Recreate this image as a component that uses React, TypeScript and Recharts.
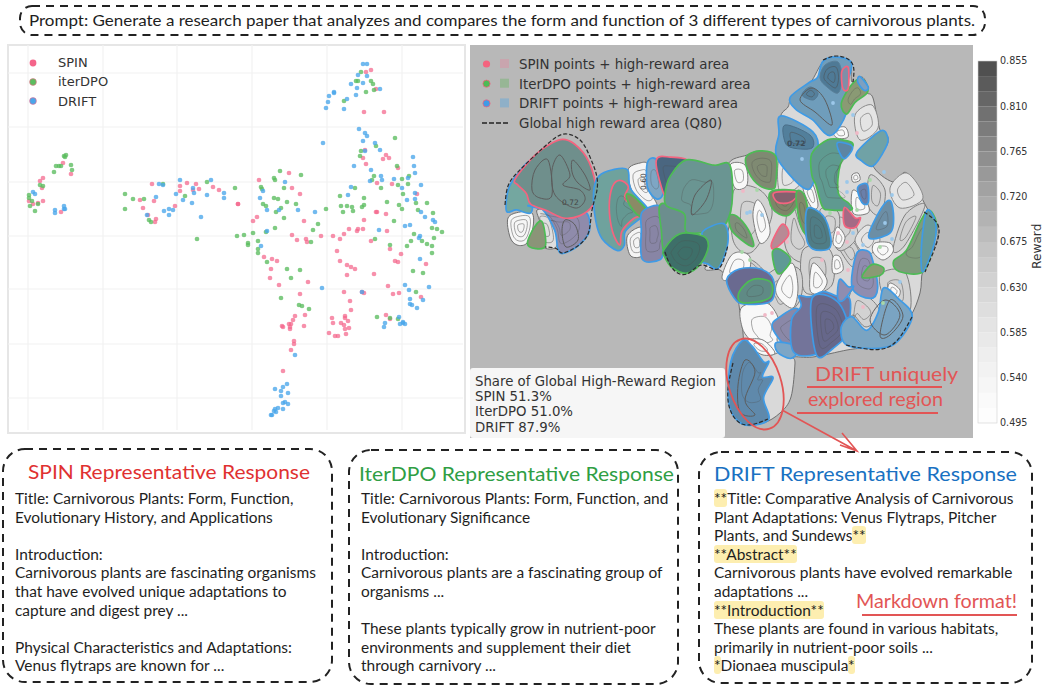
import { CartesianGrid, Scatter, ScatterChart, XAxis, YAxis } from "recharts";

type Pt = [number, number];
const pts = (list: Pt[]) => list.map(([x, y]) => ({ x, y }));

// ---- left panel, values ----
const gridX = [28, 103, 177, 252, 327, 402];
const gridY = [73, 127, 182, 236, 289, 344, 398];

const spinPoints: Pt[] = [
  [29, 201], [33, 204], [38, 203], [43, 201], [40, 181], [43, 178], [42, 188], [63, 163], [71, 174], [61, 212],
  [152, 184], [140, 200], [154, 201], [143, 208], [148, 215], [156, 219], [155, 222], [175, 206], [180, 186], [180, 191],
  [187, 183], [196, 184], [193, 190], [199, 189], [213, 187], [219, 190], [238, 204], [366, 72], [371, 70], [376, 89],
  [364, 112], [384, 112], [365, 150], [363, 158], [386, 155], [383, 159], [389, 158], [366, 164], [398, 168], [377, 183],
  [392, 184], [417, 194], [377, 212], [376, 212], [386, 214], [364, 220], [387, 231], [349, 229], [358, 229], [357, 231],
  [363, 229], [344, 234], [333, 236], [321, 236], [292, 235], [259, 180], [289, 173], [292, 188], [300, 194], [238, 204],
  [257, 217], [253, 221], [304, 221], [297, 240], [306, 239], [340, 239], [307, 242], [337, 251], [371, 241], [390, 249],
  [401, 254], [395, 261], [398, 262], [426, 264], [272, 259], [277, 261], [264, 257], [271, 269], [270, 278], [279, 285],
  [308, 282], [340, 261], [347, 265], [351, 267], [355, 269], [347, 275], [374, 274], [388, 286], [344, 292], [362, 292],
  [364, 293], [393, 294], [399, 293], [421, 297], [300, 294], [350, 301], [351, 310], [295, 316], [305, 315], [293, 320],
  [304, 326], [282, 326], [283, 327], [289, 324], [291, 324], [290, 327], [290, 329], [332, 318], [333, 323], [341, 323],
  [345, 316], [345, 318], [348, 321], [344, 325], [345, 329], [349, 328], [329, 333], [335, 336], [338, 336], [346, 334],
  [294, 341], [294, 344], [291, 350], [283, 371], [386, 315], [390, 319],
];
const iterPoints: Pt[] = [
  [29, 195], [29, 198], [30, 206], [35, 211], [32, 201], [38, 204], [40, 185], [43, 186], [54, 172], [56, 166],
  [59, 166], [61, 166], [64, 156], [66, 155], [65, 157], [71, 165], [72, 170], [125, 194], [133, 199], [144, 199],
  [125, 209], [149, 220], [151, 222], [163, 184], [185, 196], [207, 182], [235, 188], [197, 239], [237, 236], [361, 72],
  [356, 81], [358, 81], [371, 81], [373, 84], [366, 92], [374, 90], [344, 101], [395, 138], [376, 146], [361, 151],
  [360, 156], [397, 166], [374, 176], [372, 180], [409, 176], [402, 179], [398, 185], [408, 184], [355, 188], [381, 188],
  [403, 194], [340, 196], [364, 198], [416, 203], [427, 203], [399, 205], [402, 209], [387, 202], [364, 205], [362, 207],
  [341, 206], [347, 206], [352, 207], [343, 212], [353, 211], [326, 209], [418, 210], [433, 213], [394, 221], [432, 228],
  [437, 229], [442, 232], [414, 234], [434, 238], [375, 239], [280, 171], [301, 175], [274, 178], [275, 180], [261, 187],
  [262, 189], [284, 188], [274, 198], [278, 199], [287, 202], [296, 204], [263, 204], [266, 206], [281, 208], [276, 212],
  [284, 218], [318, 224], [313, 230], [275, 228], [266, 232], [253, 233], [244, 235], [258, 241], [248, 243], [248, 245],
  [258, 249], [258, 253], [267, 262], [311, 242], [390, 245], [411, 241], [407, 246], [422, 241], [427, 244], [432, 246],
  [432, 253], [287, 269], [300, 270], [291, 278], [413, 271], [423, 273], [416, 292], [281, 298], [299, 305], [302, 306],
  [309, 309], [377, 317], [390, 318], [398, 319],
];
const driftPoints: Pt[] = [
  [33, 192], [35, 194], [55, 210], [55, 213], [64, 206], [64, 209], [65, 209], [159, 184], [163, 185], [156, 197],
  [147, 215], [164, 211], [169, 209], [173, 210], [169, 215], [176, 194], [180, 180], [183, 200], [193, 188], [194, 193],
  [192, 203], [201, 217], [207, 195], [211, 180], [224, 193], [224, 198], [363, 64], [367, 64], [358, 75], [367, 76],
  [351, 84], [363, 83], [357, 88], [380, 89], [334, 92], [334, 93], [329, 96], [347, 99], [356, 95], [328, 102],
  [326, 108], [344, 109], [359, 129], [365, 133], [367, 136], [363, 141], [323, 143], [375, 143], [380, 150], [365, 151],
  [413, 157], [354, 166], [414, 166], [371, 170], [415, 173], [381, 176], [408, 178], [394, 179], [382, 180], [370, 181],
  [421, 185], [402, 188], [351, 187], [348, 195], [415, 193], [415, 199], [407, 200], [285, 182], [260, 198], [263, 191],
  [267, 210], [279, 210], [298, 210], [315, 212], [421, 212], [425, 217], [433, 220], [435, 222], [405, 226], [410, 225],
  [379, 230], [420, 236], [419, 238], [267, 231], [261, 246], [420, 259], [322, 288], [362, 292], [405, 285], [409, 290],
  [429, 287], [410, 299], [410, 304], [412, 305], [417, 308], [423, 300], [399, 317], [403, 322], [400, 324], [403, 323],
  [405, 324], [385, 323], [384, 327], [295, 355], [287, 384], [283, 387], [275, 389], [281, 391], [288, 393], [281, 396],
  [285, 402], [283, 403], [288, 404], [278, 408], [283, 409], [275, 409], [274, 411], [276, 412], [272, 415], [271, 415],
];
const scatterLegend = ["SPIN", "iterDPO", "DRIFT"];

// ---- right panel outlines ----
const outlineEast: Pt[] = [
  [728, 165], [747, 155], [760, 151], [777, 155], [780, 118], [788, 107], [792, 97], [810, 83], [823, 62], [837, 59], [850, 65],
  [852, 82], [862, 77], [868, 87], [867, 93], [873, 98], [880, 130], [887, 135], [887, 145], [873, 165], [893, 182], [907, 173],
  [927, 208], [937, 225], [936, 243], [923, 270], [920, 293], [910, 317], [890, 340], [867, 347], [847, 350], [813, 357], [793, 357],
  [795, 363], [791, 397], [780, 413], [763, 423], [743, 423], [730, 400], [732, 363], [743, 343], [740, 313], [737, 297], [728, 280],
  [720, 270], [705, 268], [725, 240], [732, 203],
];
const whiteFarLeft: Pt[] = [[508, 218], [520, 212], [532, 213], [533, 227], [527, 243], [517, 245], [510, 237]];
const greyNearLeft: Pt[] = [[537, 210], [550, 213], [557, 237], [555, 248], [543, 247], [538, 233], [540, 223]];
const whiteMidTop: Pt[] = [[628, 170], [640, 163], [648, 165], [648, 187], [657, 205], [648, 208], [633, 193]];
const whiteMidLow: Pt[] = [[627, 237], [637, 228], [643, 230], [645, 250], [640, 257], [630, 255]];
const greyCells: Pt[][] = [
  [[838, 243], [853, 242], [860, 257], [853, 267], [843, 255]],
  [[790, 200], [800, 225], [812, 250], [800, 262], [785, 245]],
  [[828, 212], [845, 210], [858, 235], [838, 250]],
  [[870, 175], [885, 190], [880, 215], [868, 205]],
  [[905, 215], [925, 205], [905, 245], [893, 250]],
  [[735, 255], [755, 262], [770, 280], [745, 268]],
  [[734, 190], [760, 190], [772, 215], [752, 252], [733, 240]],
  [[852, 290], [872, 300], [880, 315], [866, 327], [853, 315], [846, 325]],
  [[803, 250], [830, 250], [832, 285], [805, 292]],
  [[880, 275], [905, 272], [910, 310], [888, 305]],
  [[820, 210], [838, 212], [838, 235], [828, 240]],
  [[762, 283], [778, 268], [800, 270], [800, 300], [780, 318], [770, 305]],
];
const lightBlobs: Pt[][] = [
  [[890, 188], [907, 173], [923, 198], [900, 208]],
  [[780, 158], [800, 183], [780, 192]],
  [[855, 115], [872, 105], [878, 128], [860, 140]],
  [[855, 240], [868, 225], [880, 240], [868, 255]],
];
const whiteBlobs: Pt[][] = [
  [[730, 165], [745, 165], [747, 185], [735, 188]],
  [[757, 200], [765, 210], [770, 233], [760, 243], [753, 217]],
  [[777, 283], [792, 263], [798, 287], [793, 308], [778, 297]],
  [[813, 263], [827, 280], [820, 293], [810, 290]],
  [[837, 227], [845, 237], [840, 248], [833, 243]],
  [[833, 257], [840, 257], [843, 270], [833, 273]],
  [[890, 283], [900, 290], [897, 298], [888, 293]],
  [[875, 243], [890, 243], [893, 252], [883, 260], [873, 252]],
  [[853, 190], [867, 203], [868, 213], [853, 213]],
  [[722, 278], [730, 257], [740, 252], [750, 257], [748, 273], [733, 280]],
  [[833, 130], [845, 127], [848, 137], [837, 138]],
  [[852, 175], [858, 173], [860, 180], [853, 182]],
  [[803, 188], [812, 183], [818, 205], [812, 208]],
  [[742, 307], [767, 303], [780, 323], [777, 340], [782, 350], [765, 355], [750, 340], [742, 327]],
  [[748, 340], [763, 340], [775, 353], [763, 355], [752, 348]],
  [[815, 300], [822, 300], [826, 330], [820, 345], [814, 340]],
];

const westTeal: Pt[] = [[507, 202], [510, 187], [518, 175], [530, 163], [540, 180], [533, 200], [530, 212], [517, 209], [508, 211]];
const westMain: Pt[] = [[517, 180], [530, 163], [543, 151], [560, 142], [573, 146], [587, 163], [594, 190], [590, 205], [578, 214], [563, 216], [547, 209], [532, 203], [528, 193], [520, 185]];
const westPurple: Pt[] = [[530, 207], [555, 212], [583, 212], [588, 230], [578, 244], [563, 252], [558, 247], [555, 230], [543, 210]];
const westOlive: Pt[] = [[528, 243], [535, 227], [542, 223], [545, 245], [536, 248]];
const midTeal: Pt[] = [[595, 193], [600, 178], [613, 172], [627, 172], [630, 190], [647, 210], [640, 217], [625, 230], [624, 243], [617, 248], [603, 237], [597, 220]];
const midTealInner: Pt[] = [[613, 188], [620, 182], [628, 188], [625, 200], [643, 213], [633, 218], [622, 230], [620, 243], [613, 230], [610, 207]];
const midOlive: Pt[] = [[627, 195], [635, 198], [647, 212], [640, 216], [630, 205]];
const midPurple: Pt[] = [[643, 213], [660, 208], [667, 230], [663, 247], [660, 258], [643, 258], [642, 230]];
const midBlue: Pt[] = [[648, 163], [657, 162], [663, 190], [657, 198], [648, 187]];
const midDark: Pt[] = [[657, 161], [670, 158], [687, 162], [672, 180], [667, 193], [663, 190]];
const bigTeal: Pt[] = [[667, 193], [672, 177], [687, 162], [713, 167], [728, 167], [730, 203], [722, 225], [707, 230], [687, 230], [685, 213], [668, 205]];
const darkTeal: Pt[] = [[665, 250], [680, 235], [702, 237], [707, 247], [700, 263], [687, 272], [673, 267], [666, 257]];
const rightTeal: Pt[] = [[703, 233], [723, 225], [727, 243], [718, 267], [708, 263], [702, 260], [707, 247]];
const linkTeal: Pt[] = [[660, 208], [668, 205], [685, 213], [687, 230], [680, 235], [665, 250], [662, 230]];

const topBlue: Pt[] = [[792, 97], [810, 83], [818, 78], [823, 63], [837, 59], [850, 65], [845, 88], [845, 112], [830, 133], [813, 118], [797, 108]];
const topBlueDark: Pt[] = [[820, 78], [825, 65], [838, 62], [842, 78], [838, 93], [827, 87]];
const topBlueCore: Pt[] = [[802, 95], [810, 87], [818, 93], [813, 100]];
const topOlive: Pt[] = [[842, 103], [852, 85], [862, 80], [867, 92], [855, 102], [847, 113]];
const topPink: Pt[] = [[842, 72], [848, 68], [848, 88], [843, 88]];
const topTiny: Pt[] = [[860, 77], [868, 87], [864, 90], [858, 82]];
const leftBlue: Pt[] = [[782, 118], [812, 133], [817, 152], [812, 182], [802, 185], [778, 157], [780, 135]];
const leftBlueDark: Pt[] = [[785, 125], [810, 135], [812, 148], [793, 148], [785, 142]];
const centerTeal: Pt[] = [[828, 142], [842, 142], [852, 147], [840, 165], [838, 192], [848, 202], [850, 208], [830, 208], [823, 205], [817, 185], [813, 175], [813, 155]];
const centerCorner: Pt[] = [[838, 143], [852, 147], [845, 158], [840, 153]];
const smallRight: Pt[] = [[858, 152], [880, 132], [887, 138], [885, 148], [873, 165], [862, 160]];
const oliveLeft: Pt[] = [[747, 158], [760, 152], [775, 157], [775, 182], [772, 188], [760, 185], [750, 173]];
const oliveLow: Pt[] = [[772, 192], [797, 192], [798, 202], [787, 215], [773, 208]];
const darkBand: Pt[] = [[775, 193], [797, 193], [790, 202], [778, 202]];
const oliveTall: Pt[] = [[797, 193], [805, 198], [810, 232], [803, 230], [798, 212]];
const blueTall: Pt[] = [[808, 210], [823, 217], [830, 237], [828, 248], [813, 248], [807, 237]];
const pinkSpot: Pt[] = [[845, 208], [855, 218], [860, 218], [855, 227], [845, 225]];
const bluePurpleSpot: Pt[] = [[858, 188], [867, 185], [868, 202], [862, 202]];
const blueLowSpot: Pt[] = [[882, 208], [890, 202], [893, 218], [890, 232], [873, 238], [870, 232]];
const lensGreen: Pt[] = [[895, 260], [907, 250], [920, 223], [928, 212], [935, 223], [933, 243], [923, 270], [900, 270]];
const lensTeal: Pt[] = [[922, 243], [927, 212], [935, 223], [934, 243], [923, 270]];
const oliveSide: Pt[] = [[730, 217], [737, 217], [748, 230], [753, 245], [745, 242], [732, 230]];
const tealSpot: Pt[] = [[773, 252], [780, 250], [790, 260], [780, 273], [775, 267]];
const pinkPatch: Pt[] = [[772, 243], [782, 225], [788, 235], [775, 248]];
const purpleDark: Pt[] = [[728, 280], [740, 270], [760, 270], [772, 280], [770, 300], [745, 303], [735, 297]];
const purpleTeal: Pt[] = [[740, 292], [753, 280], [770, 283], [768, 298], [743, 302]];
const purpleBig: Pt[] = [[800, 297], [810, 298], [823, 293], [835, 297], [848, 300], [846, 327], [835, 340], [817, 352], [795, 350], [793, 320], [802, 307]];
const purpleBigDark: Pt[] = [[813, 300], [837, 303], [847, 330], [833, 347], [817, 353]];
const purpleLeft: Pt[] = [[773, 327], [780, 318], [797, 310], [800, 335], [795, 350], [785, 345]];
const blueLight: Pt[] = [[777, 343], [793, 345], [797, 352], [790, 358], [778, 352]];
const purpleRight: Pt[] = [[857, 255], [867, 252], [872, 260], [877, 287], [870, 297], [853, 287]];
const purpleNotch: Pt[] = [[840, 280], [848, 287], [853, 287], [843, 300], [838, 297]];
const oliveNotch: Pt[] = [[863, 277], [872, 265], [883, 268], [880, 275]];
const lowBlue: Pt[] = [[847, 343], [843, 327], [853, 317], [867, 330], [878, 313], [883, 290], [897, 300], [910, 317], [893, 343], [867, 347]];
const uniqueBlue: Pt[] = [[743, 343], [752, 348], [763, 363], [768, 363], [762, 377], [772, 378], [763, 397], [768, 417], [750, 423], [737, 417], [730, 400], [732, 363]];

const contourLoops: Pt[][] = [
  [[560, 155], [570, 175], [563, 185], [580, 190], [585, 200], [575, 208], [555, 195], [552, 170]],
  [[535, 170], [548, 160], [552, 195], [540, 198], [532, 190]],
  [[573, 160], [585, 175], [590, 190], [578, 183], [572, 172]],
  [[565, 220], [575, 225], [578, 240], [566, 247], [562, 232]],
  [[695, 195], [711, 180], [706, 200], [692, 215]],
  [[800, 100], [812, 88], [825, 100], [832, 125], [815, 112]],
  [[738, 385], [745, 360], [755, 372], [745, 400], [755, 415], [740, 412]],
  [[870, 320], [885, 300], [900, 315], [885, 335]],
  [[890, 300], [903, 316], [890, 335], [880, 335]],
];

const faintPink: Pt[] = [[857, 133], [743, 191], [787, 242], [838, 233], [847, 242], [848, 270], [822, 260], [765, 315], [772, 313], [863, 307]];
const faintGreen: Pt[] = [[757, 190], [870, 180], [857, 210], [742, 252], [830, 213], [880, 247], [750, 260], [883, 303]];
const faintBlue: Pt[] = [[833, 103], [853, 115], [802, 159], [884, 172], [847, 182], [892, 195], [747, 213], [762, 215], [750, 212], [853, 233], [863, 245], [892, 239], [900, 282], [847, 192], [885, 223]];

const rewardTicks = [0.495, 0.54, 0.585, 0.63, 0.675, 0.72, 0.765, 0.81, 0.855];
const rewardBands = [0.495, 0.51, 0.525, 0.54, 0.555, 0.57, 0.585, 0.6, 0.615, 0.63, 0.645, 0.66, 0.675, 0.69, 0.705, 0.72, 0.735, 0.75, 0.765, 0.78, 0.795, 0.81, 0.825, 0.84];
const rewardGreys = ["#fdfdfd", "#fafafa", "#f6f6f6", "#f2f2f2", "#eeeeee", "#e9e9e9", "#e4e4e4", "#dedede", "#d8d8d8", "#d2d2d2", "#cbcbcb", "#c4c4c4", "#bcbcbc", "#b3b3b3", "#ababab", "#a2a2a2", "#999999", "#8f8f8f", "#868686", "#7c7c7c", "#717171", "#666666", "#5b5b5b", "#505050"];

const shareLines = ["Share of Global High-Reward Region", "SPIN 51.3%", "IterDPO 51.0%", "DRIFT 87.9%"];
const areaLegend = ["SPIN points + high-reward area", "IterDPO points + high-reward area", "DRIFT points + high-reward area"];

const spinLines = ["Title: Carnivorous Plants: Form, Function,", "Evolutionary History, and Applications", "", "Introduction:", "Carnivorous plants are fascinating organisms", "that have evolved unique adaptations to", "capture and digest prey ...", "", "Physical Characteristics and Adaptations:", "Venus flytraps are known for ..."];
const iterLines = ["Title: Carnivorous Plants: Form, Function, and", "Evolutionary Significance", "", "Introduction:", "Carnivorous plants are a fascinating group of", "organisms ...", "", "These plants typically grow in nutrient-poor", "environments and supplement their diet", "through carnivory ..."];
const driftLines = ["[**]Title: Comparative Analysis of Carnivorous", "Plant Adaptations: Venus Flytraps, Pitcher", "Plants, and Sundews[**]", "[**Abstract**]", "Carnivorous plants have evolved remarkable", "adaptations ...", "[**Introduction**]", "These plants are found in various habitats,", "primarily in nutrient-poor soils ...", "[*]Dionaea muscipula[*]"];

const PINK = "#f4647f";
const GREEN = "#4dbb55";
const BLUE = "#3f9be6";
const OUTLINE = "#6f6f6f";
const HAND = "Lato";
const RED = "#e25555";

// outline, fill, stroke, number of inner contour rings
type Layer = [Pt[], string, string, number];
const areaLayers: Layer[] = [
  [outlineEast, "#d9d9d9", OUTLINE, 0],
  [whiteFarLeft, "#f6f6f6", OUTLINE, 3],
  [greyNearLeft, "#dedede", OUTLINE, 2],
  [whiteMidTop, "#f4f4f4", OUTLINE, 2],
  [whiteMidLow, "#f4f4f4", OUTLINE, 2],
  ...greyCells.map((b): Layer => [b, "#d2d2d2", "#808080", 1]),
  ...lightBlobs.map((b): Layer => [b, "#e4e4e4", "#8a8a8a", 1]),
  ...whiteBlobs.map((b): Layer => [b, "#f8f8f8", "#7d7d7d", 1]),
  [westTeal, "#74a7a0", BLUE, 0],
  [westPurple, "#8f8bab", BLUE, 2],
  [westMain, "#6f8f8c", PINK, 0],
  [westOlive, "#8b9478", GREEN, 0],
  [midTeal, "#6fa29d", BLUE, 0],
  [midTealInner, "#649892", PINK, 1],
  [midOlive, "#8a8a66", GREEN, 0],
  [midPurple, "#8885a5", BLUE, 2],
  [midBlue, "#7ea6c4", BLUE, 1],
  [midDark, "#4a6680", PINK, 1],
  [linkTeal, "#6c8e8e", GREEN, 0],
  [bigTeal, "#6a9592", GREEN, 1],
  [rightTeal, "#5f958e", BLUE, 0],
  [darkTeal, "#3e6f69", GREEN, 2],
  [topBlue, "#6f9dbb", BLUE, 0],
  [topBlueDark, "#4f7a96", "#5a7f98", 2],
  [topBlueCore, "#55809c", "#557a95", 1],
  [topOlive, "#8a9a74", GREEN, 1],
  [topPink, "#7e8fa8", PINK, 0],
  [topTiny, "#7ea0c0", BLUE, 0],
  [leftBlue, "#6f9dbb", BLUE, 0],
  [leftBlueDark, "#527f9b", "#4a6e88", 1],
  [centerTeal, "#5f9a90", GREEN, 2],
  [centerCorner, "#5d85a3", BLUE, 0],
  [smallRight, "#70a2a6", BLUE, 0],
  [oliveLeft, "#7f8a72", GREEN, 2],
  [oliveLow, "#7e8468", GREEN, 2],
  [darkBand, "#85606f", PINK, 0],
  [oliveTall, "#7f8a6a", GREEN, 1],
  [blueTall, "#4f7d86", BLUE, 2],
  [pinkSpot, "#a56a85", PINK, 0],
  [bluePurpleSpot, "#6a7faa", BLUE, 1],
  [blueLowSpot, "#6c8ea5", BLUE, 1],
  [lensGreen, "#7f9b7c", GREEN, 1],
  [lensTeal, "#67999a", BLUE, 0],
  [oliveSide, "#7e8f7a", GREEN, 1],
  [pinkPatch, "#b88a95", PINK, 0],
  [tealSpot, "#5f9a95", GREEN, 0],
  [purpleDark, "#6a6a90", BLUE, 0],
  [purpleTeal, "#5f8a85", GREEN, 1],
  [purpleLeft, "#8a88a8", BLUE, 1],
  [blueLight, "#7da6c6", BLUE, 0],
  [purpleBig, "#73749a", BLUE, 0],
  [purpleBigDark, "#66678a", BLUE, 3],
  [purpleRight, "#8f8db0", BLUE, 2],
  [purpleNotch, "#8f8db0", BLUE, 0],
  [oliveNotch, "#8a9a74", GREEN, 0],
  [lowBlue, "#7aa4c2", BLUE, 0],
  [uniqueBlue, "#5f89ab", BLUE, 1],
];

const dashedOutlines: Pt[][] = [
  [[505, 205], [508, 186], [517, 173], [530, 160], [543, 148], [555, 138], [567, 134], [581, 141], [590, 157], [596, 173], [597, 190], [592, 210], [589, 231], [579, 245], [563, 253], [557, 249], [545, 247]],
  [[823, 60], [837, 56], [852, 63], [853, 82]],
  [[665, 252], [673, 269], [687, 274], [702, 265], [718, 269], [728, 245]],
  [[733, 363], [728, 400], [742, 424], [768, 419]],
  [[924, 212], [938, 225], [936, 245], [925, 272]],
  [[846, 345], [867, 349], [892, 345], [912, 317]],
];

// closed smooth path through the points the Scatter has already scaled
const smoothPath = (p: { x: number; y: number }[]) => {
  const n = p.length;
  let d = `M${p[0].x},${p[0].y}`;
  for (let i = 0; i < n; i++) {
    const a = p[(i - 1 + n) % n];
    const b = p[i];
    const c = p[(i + 1) % n];
    const e = p[(i + 2) % n];
    d += `C${b.x + (c.x - a.x) / 6},${b.y + (c.y - a.y) / 6} ${c.x - (e.x - b.x) / 6},${c.y - (e.y - b.y) / 6} ${c.x},${c.y}`;
  }
  return d + "Z";
};

const Blob = ({ points, areaFill, areaStroke, rings }: any) => {
  const cx = points.reduce((s: number, q: any) => s + q.x, 0) / points.length;
  const cy = points.reduce((s: number, q: any) => s + q.y, 0) / points.length;
  const bold = [PINK, GREEN, BLUE].includes(areaStroke);
  const around = (k: number) => points.map((q: any) => ({ x: cx + (q.x - cx) * k, y: cy + (q.y - cy) * k }));
  return (
    <g>
      <path d={smoothPath(around(bold ? 1.06 : 1))} fill={areaFill} stroke={areaStroke} strokeWidth={bold ? 1.7 : 1} />
      {Array.from({ length: rings }, (_, i) => (
        <path
          key={i}
          d={smoothPath(around((rings - i) / (rings + 1)))}
          fill="none"
          stroke="#4c4c4c"
          strokeOpacity={bold ? 0.35 : 0.55}
          strokeWidth={0.9}
        />
      ))}
    </g>
  );
};

const BandFill = ({ points, bandFill }: any) => (
  <path d={`M${points.map((q: any) => `${q.x},${q.y}`).join("L")}Z`} fill={bandFill} />
);

const Dot = ({ cx, cy, fill, fillOpacity, r = 2.35 }: any) => <circle cx={cx} cy={cy} r={r} fill={fill} fillOpacity={fillOpacity} />;
const FaintDot = (props: any) => <Dot {...props} r={1.9} />;

const Highlighted = ({ line }: { line: string }) => (
  <>
    {line.split(/(\[[^\]]*\])/).map((part, i) =>
      part.startsWith("[") ? (
        <span key={i} style={{ background: "#fdeeb0", borderRadius: 3 }}>
          {part.slice(1, -1)}
        </span>
      ) : (
        <span key={i}>{part}</span>
      ),
    )}
  </>
);

const ResponseText = ({ lines, left }: { lines: string[]; left: number }) => (
  <div style={{ position: "absolute", left, top: 489, fontFamily: "Lato", fontSize: 15.45, lineHeight: "18.6px", color: "#1e1e1e", whiteSpace: "pre" }}>
    {lines.map((line, i) => (
      <div key={i} style={{ height: 18.6 }}>
        <Highlighted line={line} />
      </div>
    ))}
  </div>
);

const App = () => {
  return (
    <div style={{ position: "absolute", left: 0, top: 0, width: 1047, height: 688, background: "#fff", overflow: "hidden" }}>
      {/* left scatter */}
      <div style={{ position: "absolute", left: 7, top: 44, width: 455, height: 386, border: "2px solid #e6e6e6" }} />
      <div style={{ position: "absolute", left: 8, top: 45 }}>
        <ScatterChart width={455} height={385} margin={{ top: 0, right: 0, bottom: 0, left: 0 }}>
          <CartesianGrid stroke="#f2f2f2" strokeWidth={1.2} verticalValues={gridX} horizontalValues={gridY} />
          <XAxis type="number" dataKey="x" domain={[8, 463]} hide />
          <YAxis type="number" dataKey="y" domain={[45, 430]} reversed hide />
          <Scatter data={pts(spinPoints)} fill="#f4658a" fillOpacity={0.72} shape={<Dot />} isAnimationActive={false} />
          <Scatter data={pts(iterPoints)} fill="#5bbd5f" fillOpacity={0.78} shape={<Dot />} isAnimationActive={false} />
          <Scatter data={pts(driftPoints)} fill="#4aa6ea" fillOpacity={0.78} shape={<Dot />} isAnimationActive={false} />
        </ScatterChart>
      </div>
      {scatterLegend.map((name, i) => (
        <div key={name} style={{ position: "absolute", left: 58, top: 54 + i * 19.3, fontFamily: "DejaVu Sans", fontSize: 13, lineHeight: "18px", color: "#333" }}>
          {name}
        </div>
      ))}

      {/* reward map */}
      <div style={{ position: "absolute", left: 470, top: 45, background: "#b8b8b8", width: 503, height: 393 }}>
        <ScatterChart width={503} height={393} margin={{ top: 0, right: 0, bottom: 0, left: 0 }}>
          <XAxis type="number" dataKey="x" domain={[470, 973]} hide />
          <YAxis type="number" dataKey="y" domain={[45, 438]} reversed hide />
          {areaLayers.map(([outline, fill, stroke, rings], i) => (
            <Scatter
              key={`area-${i}`}
              data={pts(outline)}
              line={<Blob areaFill={fill} areaStroke={stroke} rings={rings} />}
              shape={() => <g />}
              isAnimationActive={false}
            />
          ))}
          {contourLoops.map((loop, i) => (
            <Scatter
              key={`contour-${i}`}
              data={pts(loop)}
              line={<Blob areaFill="none" areaStroke="#5c5c5c" rings={0} />}
              shape={() => <g />}
              isAnimationActive={false}
            />
          ))}
          {dashedOutlines.map((edge, i) => (
            <Scatter
              key={`edge-${i}`}
              data={pts(edge)}
              line={{ fill: "none", stroke: "#2c2c2c", strokeWidth: 1.2, strokeDasharray: "4 2" }}
              lineJointType="natural"
              shape={() => <g />}
              isAnimationActive={false}
            />
          ))}
          <Scatter data={pts(faintPink)} fill="#f0b8c6" shape={<FaintDot />} isAnimationActive={false} />
          <Scatter data={pts(faintGreen)} fill="#a8d8a8" shape={<FaintDot />} isAnimationActive={false} />
          <Scatter data={pts(faintBlue)} fill="#9cc8ea" shape={<FaintDot />} isAnimationActive={false} />
        </ScatterChart>
      </div>

      {/* colorbar */}
      <div style={{ position: "absolute", left: 978, top: 51 }}>
        <ScatterChart width={69} height={382} margin={{ top: 10, right: 0, bottom: 10, left: 0 }}>
          <XAxis type="number" dataKey="x" domain={[0, 1]} hide />
          <YAxis
            orientation="right"
            type="number"
            dataKey="y"
            domain={[0.495, 0.855]}
            ticks={rewardTicks}
            interval={0}
            width={50}
            axisLine={false}
            tickLine={false}
            tickMargin={3}
            tickSize={0}
            tickFormatter={(v: number) => v.toFixed(3)}
            tick={{ fontFamily: "DejaVu Sans", fontSize: 9.6, fill: "#333" }}
          />
          {rewardBands.map((low, i) => (
            <Scatter
              key={low}
              data={[{ x: 0, y: low }, { x: 1, y: low }, { x: 1, y: low + 0.015 }, { x: 0, y: low + 0.015 }]}
              line={<BandFill bandFill={rewardGreys[i]} />}
              shape={() => <g />}
              isAnimationActive={false}
            />
          ))}
        </ScatterChart>
      </div>

      <svg width={1047} height={688} style={{ position: "absolute", left: 0, top: 0, pointerEvents: "none" }}>
        {/* scatter legend markers */}
        <circle cx={33} cy={63} r={3.4} fill="#f4658a" />
        <circle cx={33} cy={82} r={3.4} fill="#5bbd5f" stroke="#f4658a" strokeWidth={0.6} />
        <circle cx={33} cy={101} r={3.4} fill="#4aa6ea" stroke="#f4658a" strokeWidth={0.6} />

        {/* map legend */}
        {areaLegend.map((label, i) => (
          <g key={label}>
            <circle cx={486.5} cy={64 + i * 19.7} r={3.6} fill={[PINK, GREEN, BLUE][i]} stroke={i ? PINK : "none"} strokeWidth={0.8} />
            <rect x={500} y={59 + i * 19.7} width={9} height={9} fill={["#c9a5ae", "#97b695", "#8fb0c8"][i]} />
            <text x={519} y={69 + i * 19.7} fontFamily="DejaVu Sans" fontSize={13.4} fill="#333">
              {label}
            </text>
          </g>
        ))}
        <line x1={482} x2={509} y1={123} y2={123} stroke="#222" strokeWidth={1.3} strokeDasharray="5 2" />
        <text x={519} y={128} fontFamily="DejaVu Sans" fontSize={13.4} fill="#333">
          Global high reward area (Q80)
        </text>

        {/* share box */}
        <rect x={470} y={368} width={255} height={70} rx={3} fill="#f6f6f6" />
        {shareLines.map((line, i) => (
          <text key={line} x={475} y={386 + i * 15.2} fontFamily="DejaVu Sans" fontSize={13.3} fill="#333">
            {line}
          </text>
        ))}

        {/* contour numbers */}
        <text x={787} y={146} fontFamily="DejaVu Sans" fontSize={7.5} fontWeight={700} fill="#3c4c58">0.72</text>
        <text x={562} y={205} fontFamily="DejaVu Sans" fontSize={7.5} fill="#444">0.72</text>
        <text transform="translate(646 190) rotate(-90)" fontFamily="DejaVu Sans" fontSize={7.5} fill="#444">0.60</text>

        {/* colorbar frame and label */}
        <rect x={978} y={61} width={19} height={362} fill="none" stroke="#cfcfcf" strokeWidth={0.6} />
        <text transform="translate(1041 269) rotate(-90)" fontFamily="DejaVu Sans" fontSize={12.2} fill="#333">Reward</text>

        {/* hand drawn notes */}
        <ellipse cx={755} cy={384} rx={26} ry={47} transform="rotate(-18 755 384)" fill="none" stroke={RED} strokeWidth={1.8} />
        <text x={815} y={381} textLength={143} lengthAdjust="spacingAndGlyphs" fontFamily={HAND} fontSize={20} fill={RED}>DRIFT uniquely</text>
        <text x={808} y={406} textLength={135} lengthAdjust="spacingAndGlyphs" fontFamily={HAND} fontSize={20} fill={RED}>explored region</text>
        <line x1={807} x2={942} y1={387} y2={387} stroke={RED} strokeWidth={1.8} />
        <line x1={797} x2={938} y1={413} y2={413} stroke={RED} strokeWidth={1.8} />
        <path d="M782 410 L857 451 M842 433 L857 451 L840 445" fill="none" stroke={RED} strokeWidth={1.6} />

        {/* dashed boxes */}
        <rect x={20} y={6} width={965} height={29} rx={12} fill="none" stroke="#222" strokeWidth={2} strokeDasharray="8 6" />
        <rect x={3} y={449} width={329} height={233} rx={22} fill="none" stroke="#222" strokeWidth={2} strokeDasharray="8 6" />
        <rect x={349} y={450} width={329} height={234} rx={22} fill="none" stroke="#222" strokeWidth={2} strokeDasharray="8 6" />
        <rect x={699} y={452} width={333} height={231} rx={22} fill="none" stroke="#222" strokeWidth={2} strokeDasharray="8 6" />

        <text x={29} y={26} textLength={946} lengthAdjust="spacingAndGlyphs" fontFamily={HAND} fontSize={15} fill="#1e1e1e">
          Prompt:  Generate a research paper that analyzes and compares the form and function of 3 different types of carnivorous plants.
        </text>
        <text x={28} y={479} textLength={282} lengthAdjust="spacingAndGlyphs" fontFamily={HAND} fontSize={19} fill="#e03131">SPIN Representative Response</text>
        <text x={359} y={481} textLength={315} lengthAdjust="spacingAndGlyphs" fontFamily={HAND} fontSize={19} fill="#2f9e44">IterDPO Representative Response</text>
        <text x={714} y={481} textLength={303} lengthAdjust="spacingAndGlyphs" fontFamily={HAND} fontSize={19} fill="#1971c2">DRIFT Representative Response</text>
        <text x={856} y={608} textLength={161} lengthAdjust="spacingAndGlyphs" fontFamily={HAND} fontSize={19} fill={RED}>Markdown format!</text>
        <line x1={862} x2={1017} y1={615} y2={615} stroke={RED} strokeWidth={1.8} />
      </svg>

      <ResponseText lines={spinLines} left={15} />
      <ResponseText lines={iterLines} left={361} />
      <ResponseText lines={driftLines} left={714} />
    </div>
  );
};

export default App;
